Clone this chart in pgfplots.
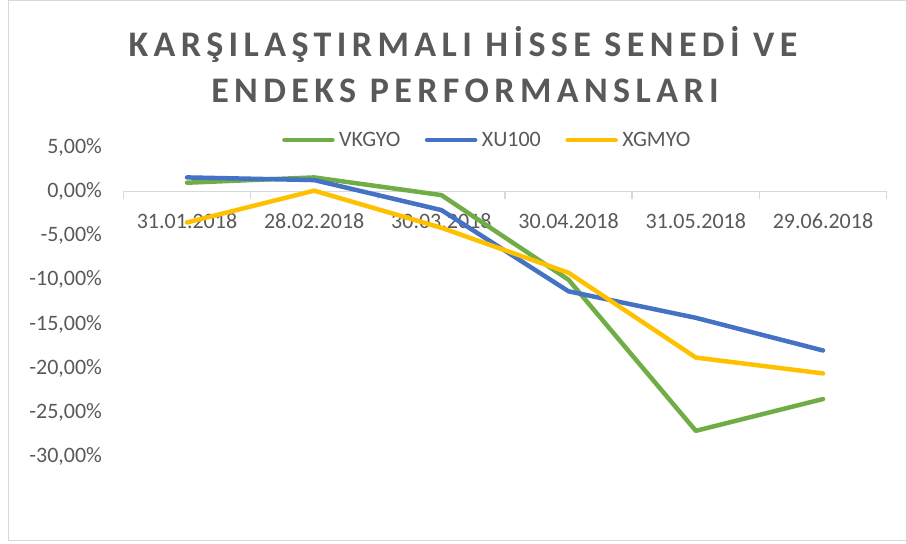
\documentclass[border=0pt]{standalone}
\usepackage{fontspec}
\setmainfont{Carlito}
\newfontfamily\titlefont[LetterSpace=15]{Carlito}
\usepackage{pgfplots}
\pgfplotsset{compat=1.18}
\definecolor{cgreen}{HTML}{70AD47}
\definecolor{cblue}{HTML}{4472C4}
\definecolor{cyellow}{HTML}{FFC000}
\definecolor{ctext}{HTML}{595959}
\definecolor{caxis}{HTML}{D9D9D9}
\begin{document}
\begin{tikzpicture}
\path[use as bounding box] (0,0) rectangle (906pt,544pt);
\draw[caxis, line width=1pt] (920pt,543pt) -- (8pt,543pt) -- (8pt,3pt) -- (920pt,3pt);
\node[anchor=base, text=ctext, font=\titlefont\fontsize{36}{40}\selectfont\bfseries] at (463pt,487pt) {KARŞILAŞTIRMALI HİSSE SENEDİ VE};
\node[anchor=base, text=ctext, font=\titlefont\fontsize{36}{40}\selectfont\bfseries] at (465pt,441pt) {ENDEKS PERFORMANSLARI};
\begin{axis}[
  at={(123.4pt,43.4pt)}, anchor=south west,
  scale only axis, width=763.2pt, height=353.2pt,
  xmin=-0.5, xmax=5.5, ymin=-35, ymax=5,
  axis x line*=middle, axis y line*=left,
  y axis line style={draw=none},
  x axis line style={draw=caxis, line width=1.5pt},
  xtick={0,1,2,3,4,5},
  xticklabels={31.01.2018,28.02.2018,30.03.2018,30.04.2018,31.05.2018,29.06.2018},
  minor xtick={-0.5,0.5,...,5.5},
  major x tick style={draw=none},
  minor x tick style={draw=caxis, line width=1.5pt},
  tick align=outside,
  minor tick length=7pt,
  ytick={-30,-25,...,5},
  yticklabels={{-30,00\%},{-25,00\%},{-20,00\%},{-15,00\%},{-10,00\%},{-5,00\%},{0,00\%},{5,00\%}},
  ytick style={draw=none},
  yticklabel style={anchor=east, inner sep=0pt, xshift=-17pt, font=\fontsize{22}{26}\selectfont, text=ctext},
  xticklabel style={anchor=north, inner sep=0pt, yshift=-17pt, font=\fontsize{22}{26}\selectfont, text=ctext},
  clip=false,
  legend columns=3,
  legend style={draw=none, fill=none, at={(axis description cs:0.4758,1.021)}, anchor=center,
    font=\fontsize{22}{26}\selectfont, text=ctext,
    /tikz/every odd column/.append style={column sep=4pt},
    /tikz/every even column/.append style={column sep=24pt},
    nodes={inner sep=0.5pt}},
  legend image code/.code={\draw[#1] (0pt,0pt) -- (48pt,0pt);},
  every axis plot/.append style={line width=4.5pt, line join=round, line cap=round},
]
\addplot[cgreen] coordinates {(0,1.0) (1,1.6) (2,-0.4) (3,-10.0) (4,-27.1) (5,-23.5)};
\addlegendentry{VKGYO}
\addplot[cblue] coordinates {(0,1.6) (1,1.3) (2,-2.1) (3,-11.3) (4,-14.3) (5,-18.0)};
\addlegendentry{XU100}
\addplot[cyellow] coordinates {(0,-3.5) (1,0.1) (2,-4.1) (3,-9.2) (4,-18.8) (5,-20.6)};
\addlegendentry{XGMYO}
\end{axis}
\end{tikzpicture}
\end{document}
